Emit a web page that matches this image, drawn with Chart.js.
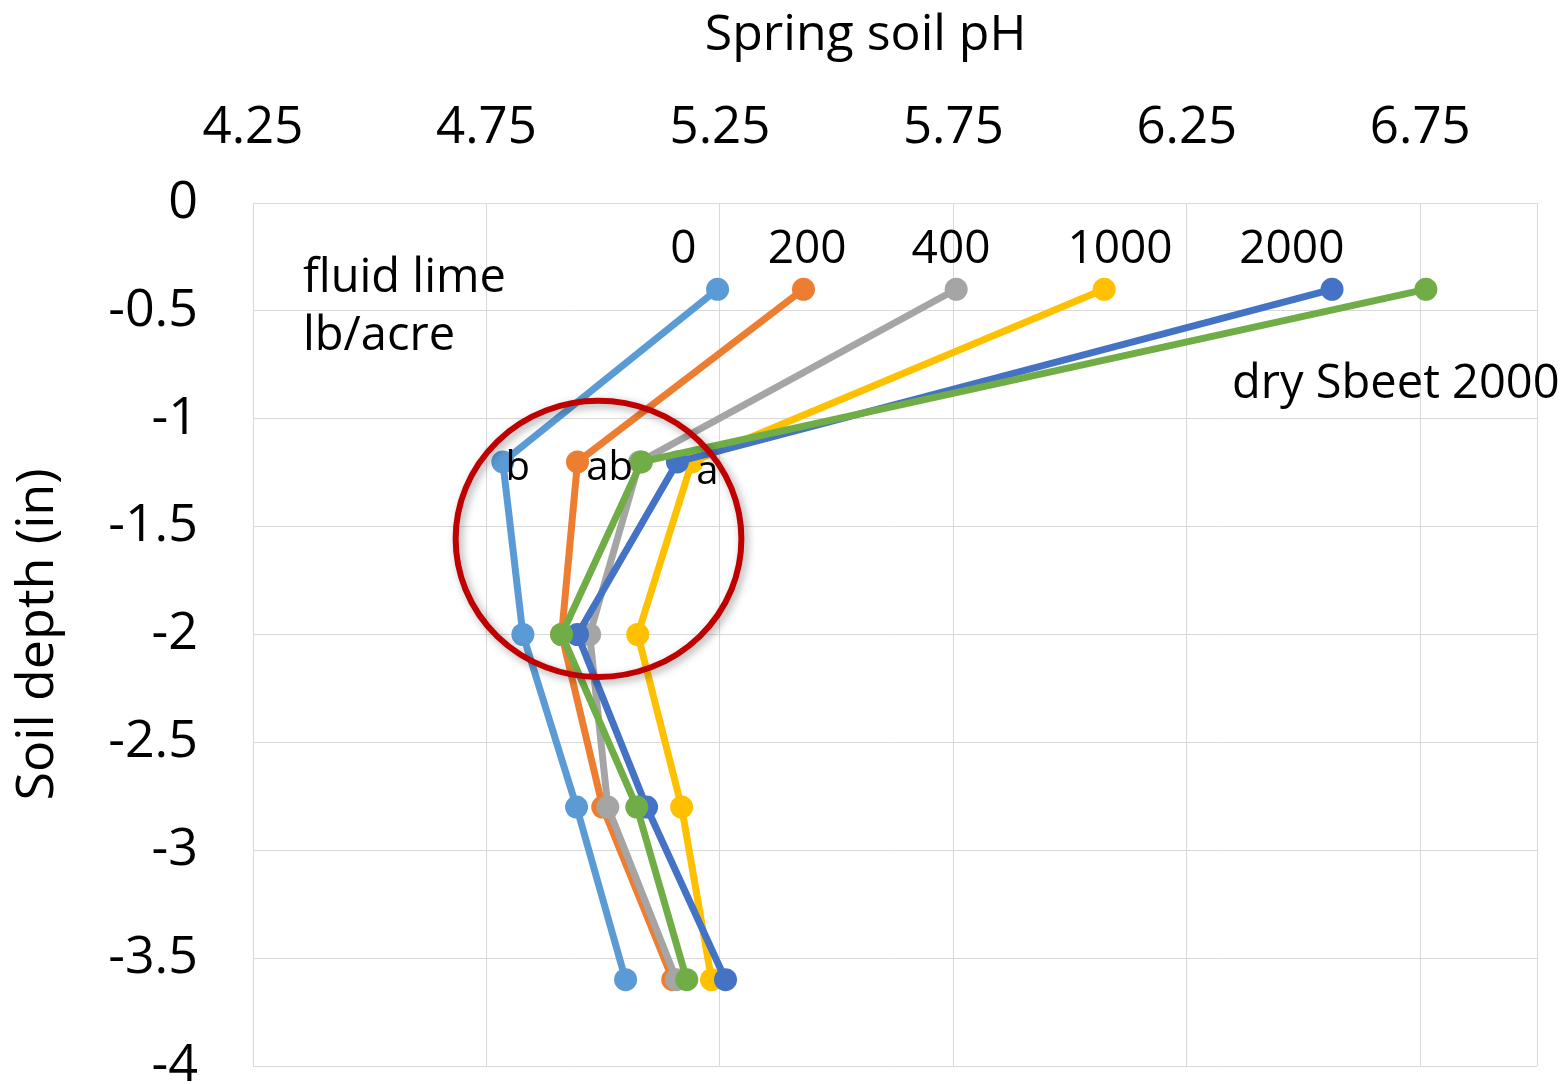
<!DOCTYPE html>
<html><head><meta charset="utf-8">
<script src="https://cdn.jsdelivr.net/npm/chart.js@4.4.0/dist/chart.umd.min.js"></script>
<style>html,body{margin:0;padding:0;background:#fff;} #wrap{width:1565px;height:1084px;}</style>
</head><body><div id="wrap"><canvas id="c" width="1565" height="1084"></canvas></div>
<script>
// ---- data ----
const DEPTHS = [-0.4, -1.2, -2.0, -2.8, -3.6];
const SERIES_NAMES = ['0', '200', '400', '1000', '2000', 'dry Sbeet 2000'];
const PH_0    = [5.245, 4.785, 4.828, 4.943, 5.048];
const PH_200  = [5.429, 4.945, 4.911, 4.999, 5.149];
const PH_400  = [5.756, 5.078, 4.971, 5.010, 5.157];
const PH_1000 = [6.073, 5.190, 5.074, 5.168, 5.232];
const PH_2000 = [6.561, 5.159, 4.945, 5.093, 5.262];
const PH_DRY  = [6.762, 5.082, 4.911, 5.072, 5.179];
const X_TICK_LABELS = ['4.25', '4.75', '5.25', '5.75', '6.25', '6.75'];
const Y_TICK_LABELS = ['0', '-0.5', '-1', '-1.5', '-2', '-2.5', '-3', '-3.5', '-4'];
const X_MIN = 4.25, X_MAX = 7.0, Y_MIN = -4, Y_MAX = 0;
const X_TITLE = 'Spring soil pH';
const Y_TITLE = 'Soil depth (in)';

const COLORS = ['#5B9BD5', '#ED7D31', '#A5A5A5', '#FFC000', '#4472C4', '#70AD47'];
const ALL_PH = [PH_0, PH_200, PH_400, PH_1000, PH_2000, PH_DRY];

const FONT = "'Open Sans', 'Noto Sans', sans-serif";

const datasets = ALL_PH.map((arr, i) => ({
  label: SERIES_NAMES[i],
  data: arr.map((v, k) => ({x: v, y: DEPTHS[k]})),
  showLine: true,
  borderColor: COLORS[i],
  backgroundColor: COLORS[i],
  borderWidth: 7,
  pointRadius: 11.5,
  pointHoverRadius: 11.5,
  pointBorderWidth: 0,
  tension: 0,
  order: ALL_PH.length - i
}));

// text annotations in data coordinates
const LABEL_TEXTS = ['0', '200', '400', '1000', '2000'];
const LABEL_X = [5.172, 5.437, 5.745, 6.107, 6.475];
const LABEL_Y = -0.278;
const NOTE_TEXTS = ['fluid lime', 'lb/acre', 'dry Sbeet 2000'];
const NOTE_X = [4.357, 4.357, 6.347];
const NOTE_Y = [-0.413, -0.681, -0.904];
const SIG_TEXTS = ['b', 'ab', 'a'];
const SIG_X = [4.817, 5.014, 5.223];
const SIG_Y = [-1.283, -1.283, -1.302];
const CIRCLE = {cx: 4.990, cy: -1.557, rx: 0.306, ry: 0.640};
const X_TITLE_CENTER = 5.562; // in pH units, title sits left of axis centre

const annot = {
  id: 'annot',
  afterDatasetsDraw(chart) {
    const ctx = chart.ctx, xs = chart.scales.x, ys = chart.scales.y;
    ctx.save();
    ctx.fillStyle = '#000';
    ctx.textBaseline = 'alphabetic';
    ctx.font = `46px ${FONT}`;
    ctx.textAlign = 'center';
    LABEL_TEXTS.forEach((t, i) => ctx.fillText(t, xs.getPixelForValue(LABEL_X[i]), ys.getPixelForValue(LABEL_Y)));
    ctx.font = `47px ${FONT}`;
    ctx.textAlign = 'left';
    NOTE_TEXTS.forEach((t, i) => ctx.fillText(t, xs.getPixelForValue(NOTE_X[i]), ys.getPixelForValue(NOTE_Y[i])));
    ctx.font = `40px ${FONT}`;
    ctx.textAlign = 'center';
    SIG_TEXTS.forEach((t, i) => ctx.fillText(t, xs.getPixelForValue(SIG_X[i]), ys.getPixelForValue(SIG_Y[i])));
    // x axis title
    ctx.font = `50px ${FONT}`;
    ctx.textAlign = 'center';
    ctx.fillText(X_TITLE, xs.getPixelForValue(X_TITLE_CENTER), chart.chartArea.top - 153);
    // red ellipse
    const cx = xs.getPixelForValue(CIRCLE.cx), cy = ys.getPixelForValue(CIRCLE.cy);
    const rx = Math.abs(xs.getPixelForValue(CIRCLE.cx + CIRCLE.rx) - cx);
    const ry = Math.abs(ys.getPixelForValue(CIRCLE.cy + CIRCLE.ry) - cy);
    ctx.shadowColor = 'rgba(0,0,0,0.35)';
    ctx.shadowBlur = 8;
    ctx.shadowOffsetX = 3;
    ctx.shadowOffsetY = 3;
    ctx.strokeStyle = '#C00000';
    ctx.lineWidth = 6;
    ctx.beginPath();
    ctx.ellipse(cx, cy, rx, ry, 0, 0, Math.PI * 2);
    ctx.stroke();
    ctx.restore();
  }
};

function zeroPad(scale) {
  scale.paddingLeft = 0; scale.paddingRight = 0;
  scale.paddingTop = 0; scale.paddingBottom = 0;
}

new Chart(document.getElementById('c'), {
  type: 'scatter',
  data: {datasets},
  plugins: [annot],
  options: {
    responsive: false,
    animation: false,
    events: [],
    layout: {padding: {left: 0, top: 0, right: 28, bottom: 18}},
    plugins: {legend: {display: false}, tooltip: {enabled: false}},
    scales: {
      x: {
        type: 'linear',
        position: 'top',
        min: X_MIN, max: X_MAX,
        afterBuildTicks(scale) {
          scale.ticks = X_TICK_LABELS.map(s => ({value: parseFloat(s)})).concat([{value: X_MAX}]);
        },
        afterFit(scale) { scale.height = 203; zeroPad(scale); },
        ticks: {
          autoSkip: false, maxRotation: 0,
          padding: 44,
          color: '#000',
          font: {family: FONT, size: 51},
          callback: (v) => { const i = X_TICK_LABELS.findIndex(s => Math.abs(parseFloat(s) - v) < 1e-9); return i >= 0 ? X_TICK_LABELS[i] : ''; }
        },
        grid: {color: '#D9D9D9', lineWidth: 1, drawTicks: false},
        border: {color: '#D9D9D9', width: 1},
        title: {display: false}
      },
      y: {
        type: 'linear',
        min: Y_MIN, max: Y_MAX,
        afterBuildTicks(scale) {
          scale.ticks = Y_TICK_LABELS.map(s => ({value: parseFloat(s)}));
        },
        afterFit(scale) { scale.width = 253; zeroPad(scale); },
        ticks: {
          autoSkip: false,
          padding: 55,
          color: '#000',
          font: {family: FONT, size: 52},
          callback: (v) => { const i = Y_TICK_LABELS.findIndex(s => Math.abs(parseFloat(s) - v) < 1e-9); return i >= 0 ? Y_TICK_LABELS[i] : ''; }
        },
        grid: {color: '#D9D9D9', lineWidth: 1, drawTicks: false},
        border: {color: '#D9D9D9', width: 1},
        title: {display: true, text: Y_TITLE, color: '#000', font: {family: FONT, size: 52}, padding: {top: 7, bottom: 0}}
      }
    }
  }
});
</script>
</body></html>
